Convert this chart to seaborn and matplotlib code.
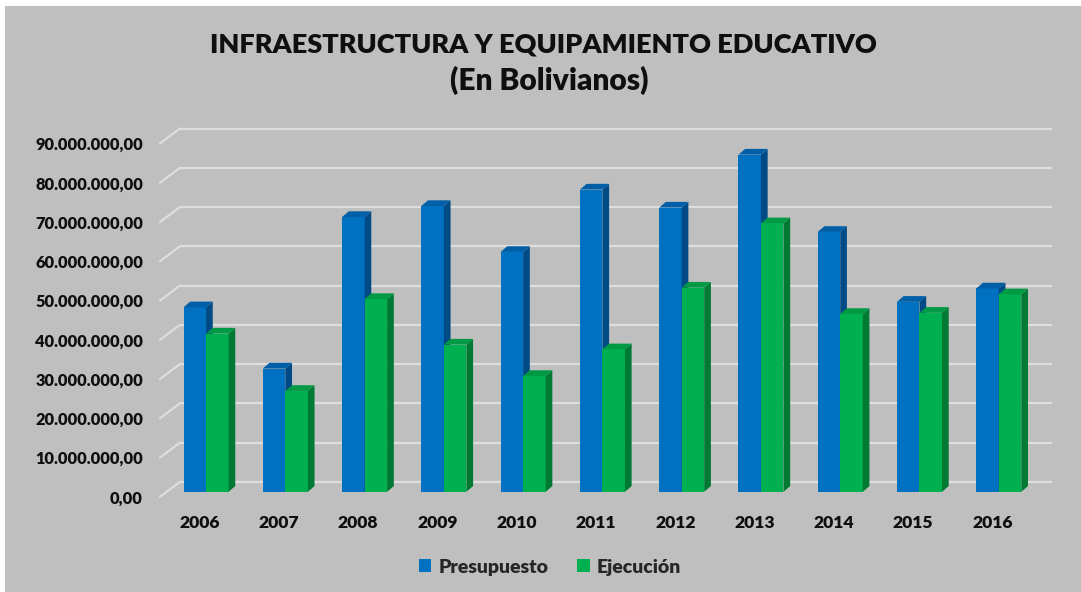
import matplotlib
matplotlib.use("Agg")
import matplotlib.pyplot as plt
from matplotlib.patches import Polygon, Rectangle, Patch
from matplotlib.transforms import ScaledTranslation
import numpy as np
import pandas as pd
import seaborn as sns

# ---------------- data ----------------
years = ["2006", "2007", "2008", "2009", "2010", "2011",
         "2012", "2013", "2014", "2015", "2016"]
presupuesto = [47.0e6, 31.4e6, 70.0e6, 72.8e6, 61.1e6, 77.0e6,
               72.4e6, 85.9e6, 66.2e6, 48.4e6, 51.8e6]
ejecucion = [40.3e6, 25.7e6, 49.1e6, 37.5e6, 29.5e6, 36.3e6,
             52.0e6, 68.4e6, 45.3e6, 45.6e6, 50.3e6]
series_names = ["Presupuesto", "Ejecución"]
y_ticks = [0, 10e6, 20e6, 30e6, 40e6, 50e6, 60e6, 70e6, 80e6, 90e6]
title_line1 = "INFRAESTRUCTURA Y EQUIPAMIENTO EDUCATIVO"
title_line2 = "(En Bolivianos)"

# ---------------- style ----------------
sns.set_style("white")
plt.rcParams["font.family"] = ["Lato", "DejaVu Sans"]
plt.rcParams["font.weight"] = "bold"

BG = "#bfbfbf"
GRID = "#dedede"
TXT = "#0f0f0f"
front_cols = ["#0070c0", "#00b050"]
side_cols = ["#004a85", "#007a32"]
top_cols = ["#005fa6", "#009a45"]

df = pd.DataFrame({
    "Año": years * 2,
    "Monto": presupuesto + ejecucion,
    "Serie": [series_names[0]] * len(years) + [series_names[1]] * len(years),
})

W, H, DPI = 1081, 592, 100
fig = plt.figure(figsize=(W / DPI, H / DPI), dpi=DPI, facecolor="white")
# grey chart area (thin white margin top/left)
fig.patches.append(Rectangle((5 / W, 0), 1 - 5 / W, 1 - 6 / H,
                             transform=fig.transFigure, facecolor=BG,
                             edgecolor="none", zorder=-10))

# axes = plane of the bars
left_px, right_px = 166.4, 1038.4
bot_px, top_px = 491.8, 138.5
ax = fig.add_axes([left_px / W, (H - bot_px) / H,
                   (right_px - left_px) / W, (bot_px - top_px) / H])
ax.set_facecolor("none")

sns.barplot(data=df, x="Año", y="Monto", hue="Serie", order=years,
            hue_order=series_names, palette=front_cols, width=0.568,
            saturation=1, ax=ax, legend=False, linewidth=0)

ax.set_xlim(-0.5, len(years) - 0.5)
ax.set_ylim(0, y_ticks[-1])
for s in ax.spines.values():
    s.set_visible(False)

# pixel -> data conversion
px_x = (right_px - left_px) / (len(years))
px_y = (bot_px - top_px) / y_ticks[-1]

def dx(p):
    return p / px_x

def dy(p):
    return p / px_y

# 3D faces of the bars
depth_x, depth_y = 6.7, 5.7
n = len(years)
for i, bar in enumerate(ax.patches[: 2 * n]):
    s = 0 if i < n else 1
    z = 3 + s
    bar.set_zorder(z)
    x0, w, h = bar.get_x(), bar.get_width(), bar.get_height()
    x1 = x0 + w
    side = Polygon([(x1, 0), (x1, h), (x1 + dx(depth_x), h + dy(depth_y)),
                    (x1 + dx(depth_x), dy(depth_y))], closed=True,
                   facecolor=side_cols[s], edgecolor="none", zorder=z)
    top = Polygon([(x0, h), (x1, h), (x1 + dx(depth_x), h + dy(depth_y)),
                   (x0 + dx(depth_x), h + dy(depth_y))], closed=True,
                  facecolor=top_cols[s], edgecolor="none", zorder=z)
    ax.add_patch(side)
    ax.add_patch(top)

# gridlines on the back wall + diagonals on the side wall
back_dx, back_dy = 13.6, 10.0
front_dx, front_dy = -6.4, -5.0
for v in y_ticks:
    ax.plot([-0.5 + dx(back_dx), len(years) - 0.5 + dx(back_dx)],
            [v + dy(back_dy), v + dy(back_dy)], color=GRID, lw=1.6,
            zorder=1, clip_on=False, solid_capstyle="butt")
    ax.plot([-0.5 + dx(front_dx), -0.5 + dx(back_dx)],
            [v + dy(front_dy), v + dy(back_dy)], color=GRID, lw=1.6,
            zorder=1, clip_on=False)

def fmt(v):
    s = f"{v:,.2f}"
    return s.replace(",", "X").replace(".", ",").replace("X", ".")

ax.set_yticks(y_ticks)
ax.set_yticklabels([fmt(v) for v in y_ticks], fontsize=11.8,
                   fontweight="heavy", color=TXT)
ax.tick_params(axis="y", length=0, pad=23.4 * 0.72)
for lab in ax.get_yticklabels():
    lab.set_transform(lab.get_transform() +
                      ScaledTranslation(0, -5 / DPI, fig.dpi_scale_trans))

ax.set_xticks(range(len(years)))
ax.set_xticklabels(years, fontsize=12.6, fontweight="heavy", color=TXT)
ax.tick_params(axis="x", length=0, pad=23.5 * 0.72)
for lab in ax.get_xticklabels():
    lab.set_transform(lab.get_transform() +
                      ScaledTranslation(-6.4 / DPI, 0, fig.dpi_scale_trans))
ax.set_xlabel("")
ax.set_ylabel("")
ax.grid(False)

# titles
fig.text(543.5 / W, (H - 52.3) / H, title_line1, ha="center",
         va="baseline", fontsize=19.5, fontweight="heavy", color=TXT)
fig.text(549 / W, (H - 89.5) / H, title_line2, ha="center",
         va="baseline", fontsize=21.5, fontweight="heavy", color=TXT)

# legend
handles = [Patch(facecolor=c, edgecolor="none") for c in front_cols]
fig.legend(handles, series_names, loc="center",
           bbox_to_anchor=(550 / W, (H - 567) / H), ncol=2, frameon=False,
           handlelength=0.62, handleheight=0.62, handletextpad=0.35,
           columnspacing=1.5, prop={"family": ["Lato", "DejaVu Sans"],
                                    "weight": "heavy", "size": 14})

fig.savefig("out.png", dpi=DPI, facecolor=fig.get_facecolor())
